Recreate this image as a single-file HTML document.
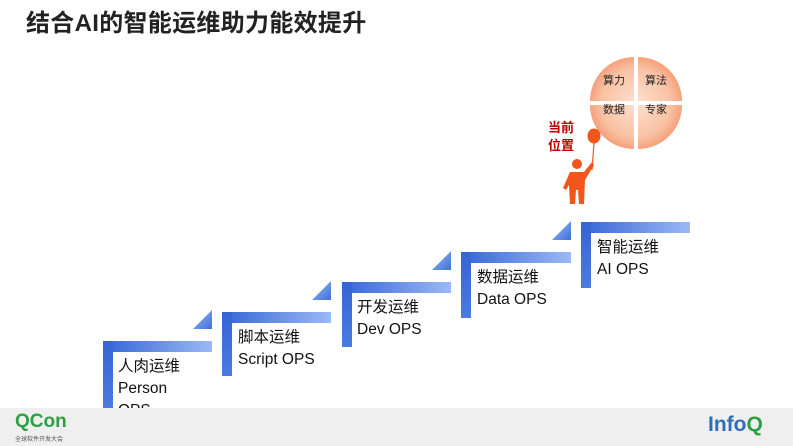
<!DOCTYPE html>
<html><head><meta charset="utf-8"><style>
body{margin:0;width:793px;height:446px;overflow:hidden;background:#fff;position:relative;font-family:"Liberation Sans","Noto Sans CJK SC",sans-serif}
.t{position:absolute;left:26px;top:3px;font-size:24px;font-weight:bold;color:#222;white-space:nowrap;letter-spacing:0.3px}
.bar{position:absolute;height:11px;background:linear-gradient(90deg,#3565d6,#9bb9f6)}
.vb{position:absolute;width:10px;background:linear-gradient(180deg,#3565d6,#4a7be0)}
.tri{position:absolute;width:19px;height:19px;background:linear-gradient(135deg,#9bb9f6,#3f70da);clip-path:polygon(0 100%,100% 100%,100% 0)}
.lb{position:absolute;font-size:15.5px;line-height:22px;color:#111;white-space:nowrap}
.ft{position:absolute;left:0;top:408px;width:793px;height:38px;background:#efefef}
.q{position:absolute;font-size:11px;color:#222}
</style></head><body>
<div class="t">结合AI的智能运维助力能效提升</div>

<div class="bar" style="left:103px;top:341px;width:109px"></div><div class="vb" style="left:103px;top:341px;height:67px"></div><div class="tri" style="left:193px;top:310px"></div>
<div class="lb" style="left:118px;top:356px">人肉运维<br>Person<br>OPS</div>

<div class="bar" style="left:222px;top:312px;width:109px"></div><div class="vb" style="left:222px;top:312px;height:64px"></div><div class="tri" style="left:312px;top:281px"></div>
<div class="lb" style="left:238px;top:327px">脚本运维<br>Script OPS</div>

<div class="bar" style="left:342px;top:282px;width:109px"></div><div class="vb" style="left:342px;top:282px;height:65px"></div><div class="tri" style="left:432px;top:251px"></div>
<div class="lb" style="left:357px;top:297px">开发运维<br>Dev OPS</div>

<div class="bar" style="left:461px;top:252px;width:110px"></div><div class="vb" style="left:461px;top:252px;height:66px"></div><div class="tri" style="left:552px;top:221px"></div>
<div class="lb" style="left:477px;top:267px">数据运维<br>Data OPS</div>

<div class="bar" style="left:581px;top:222px;width:109px"></div><div class="vb" style="left:581px;top:222px;height:66px"></div>
<div class="lb" style="left:597px;top:237px">智能运维<br>AI OPS</div>

<svg style="position:absolute;left:0;top:0" width="793" height="446">
<defs><radialGradient id="g" cx="636" cy="103" r="46" gradientUnits="userSpaceOnUse"><stop offset="0" stop-color="#fde0d0"/><stop offset="0.75" stop-color="#f9c2a4"/><stop offset="1" stop-color="#f5a27c"/></radialGradient></defs>
<g fill="url(#g)">
<path d="M634,101 L634,57 A44,44 0 0 0 590,101 Z"/>
<path d="M638,101 L638,57 A44,44 0 0 1 682,101 Z"/>
<path d="M634,105 L590,105 A44,44 0 0 0 634,149 Z"/>
<path d="M638,105 L682,105 A44,44 0 0 1 638,149 Z"/>
</g>
<text x="614" y="84" font-size="11" fill="#222" text-anchor="middle" font-family="Noto Sans CJK SC">算力</text>
<text x="656" y="84" font-size="11" fill="#222" text-anchor="middle" font-family="Noto Sans CJK SC">算法</text>
<text x="614" y="113" font-size="11" fill="#222" text-anchor="middle" font-family="Noto Sans CJK SC">数据</text>
<text x="656" y="113" font-size="11" fill="#222" text-anchor="middle" font-family="Noto Sans CJK SC">专家</text>
<text x="548" y="132" font-size="13" font-weight="bold" fill="#c00000" font-family="Noto Sans CJK SC">当前</text>
<text x="548" y="150" font-size="13" font-weight="bold" fill="#c00000" font-family="Noto Sans CJK SC">位置</text>
<g fill="#f2561a" stroke="#f2561a">
<ellipse cx="594" cy="136" rx="6" ry="7"/>
<path d="M594,143 L592,170" fill="none" stroke-width="1.2"/>
<circle cx="577" cy="164" r="5" stroke="none"/>
<path d="M570,172 L584,172 L592,162 L594,165 L585,180 L584,204 L579,204 L578,190 L576,190 L575,204 L570,204 L569,185 L566,190 L563,188 Z" stroke="none"/>
</g>
</svg>

<div class="ft"></div>
<div style="position:absolute;left:15px;top:411px;font-size:19px;font-weight:bold;color:#2ea043">QCon</div>
<div style="position:absolute;left:15px;top:434px;font-size:6px;color:#555;font-family:'Noto Sans CJK SC'">全球软件开发大会</div>
<div style="position:absolute;left:708px;top:413px;font-size:21px;font-weight:bold;color:#2f6fb8">Info<span style="color:#2ea043">Q</span></div>
</body></html>
